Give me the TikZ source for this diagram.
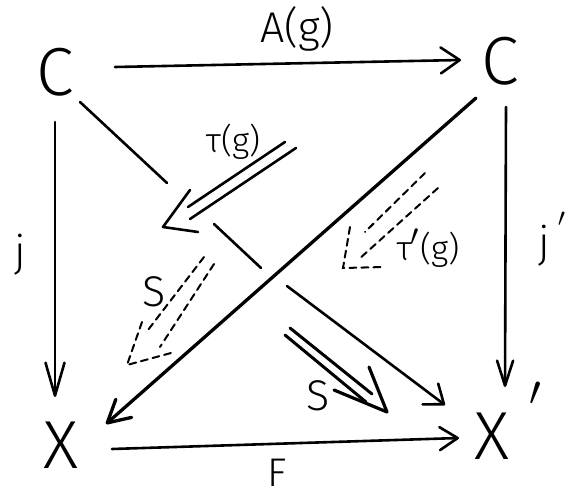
\RequirePackage{fix-cm}
\documentclass[tikz,border=0pt]{standalone}
\usepackage{fontspec}
\IfFontExistsTF{Fira Sans Light}{\setmainfont{Fira Sans Light}}{\setmainfont{DejaVu Sans}}
\usetikzlibrary{arrows.meta,calc}
\begin{document}
\begin{tikzpicture}[x=1pt,y=-1pt,
  ln/.style={line width=2.6pt, line cap=round, line join=round},
  dsh/.style={line width=2pt, line cap=round, dash pattern=on 7pt off 5pt},
  big/.style={font=\fontsize{68}{68}\selectfont, inner sep=0pt},
  lbl/.style={font=\fontsize{43}{43}\selectfont, inner sep=0pt, anchor=base},
  sml/.style={font=\fontsize{34}{34}\selectfont, inner sep=0pt, anchor=base},
]
\useasboundingbox (0,0) rectangle (581,497);

% objects
\node[big] (CL) at (55,72) {C};
\node[big] (CR) at (500,61) {C};
\node[big] (XL) at (61,445) {X};
\node[big] (XR) at (492,436) {X\rlap{\hspace{20pt}\smash{\raisebox{54pt}{\fontsize{42}{42}\selectfont$\prime$}}}};

% labels
\node[lbl] (lA) at (297,43) {A(g)};
\node[lbl, font=\fontsize{40}{40}\selectfont] (lF) at (277,486) {F};
\node[lbl] (lj) at (20,266) {j};
\node[lbl] (ljp) at (544,258) {j\rlap{\hspace{8pt}\smash{\raisebox{31pt}{\fontsize{26}{26}\selectfont$\prime$}}}};
\node[lbl] (lS1) at (154,306) {S};
\node[lbl] (lS2) at (318,410) {S};
\node[sml] (lt) at (233,153) {τ(g)};
\node[sml] (ltp) at (428,261) {τ\kern-1pt\raisebox{15pt}{\fontsize{30}{30}\selectfont$\prime$}\kern1pt(g)};

% 1-cells
\draw[ln, -{Straight Barb[length=19pt,width=26pt,round]}] ($(CL)+(60,-5)$) -- ($(CR)+(-39,-1)$);
\draw[ln, -{Straight Barb[length=33pt,width=19pt,round]}] ($(CL)+(0,50)$) -- ($(XL)+(-6,-48)$);
\draw[ln, -{Straight Barb[length=25pt,width=16pt,round]}] ($(CR)+(6,46)$) -- ($(XR)+(13,-49)$);
\draw[ln, -{Straight Barb[length=18pt,width=23pt,round]}] ($(XL)+(51,4)$) -- ($(XR)+(-33,2)$);
\draw[ln, line width=3.3pt, -{Straight Barb[length=22pt,width=24pt,round]}] ($(CR)+(-24,37)$) -- ($(XL)+(45,-21)$);
% broken diagonal C -> X'
\coordinate (b1) at (167,183);
\coordinate (b2) at (214,224);
\coordinate (b3) at (261,268);
\coordinate (b4) at (287,286);
\draw[ln] ($(CL)+(25,30)$) -- (b1);
\draw[ln] (b2) -- (b3);
\draw[ln, -{Straight Barb[length=17pt,width=26pt,round]}] (b4) -- ($(XR)+(-47,-31)$);

% 2-cell tau(g)
\coordinate (ttip) at (163,227);
\draw[ln] (285,142) -- (188,207);
\draw[ln] (296,148) -- (190,219);
\draw[ln] (190,190) -- (ttip) -- (198,232);

% 2-cell tau'(g) dashed
\coordinate (tptip) at (343,268);
\draw[dsh] (425,173) -- (365,232);
\draw[dsh] (438,188) -- (358,260);
\draw[dsh] (350,227) -- (tptip) -- (385,267);

% 2-cell S dashed (upper left)
\coordinate (s1tip) at (127,365);
\draw[dsh] (204,257) -- (148,330);
\draw[dsh] (214,264) -- (160,347);
\draw[dsh] (142,322) -- (s1tip) -- (171,353);

% 2-cell S (lower)
\coordinate (s2tip) at (387,412);
\draw[ln, line width=3pt] (285,335) -- (366,402);
\draw[ln, line width=3pt] (290,328) -- (372,394);
\draw[ln, line width=3.2pt] (334,390) -- (s2tip) -- (369,367);
\end{tikzpicture}
\end{document}
